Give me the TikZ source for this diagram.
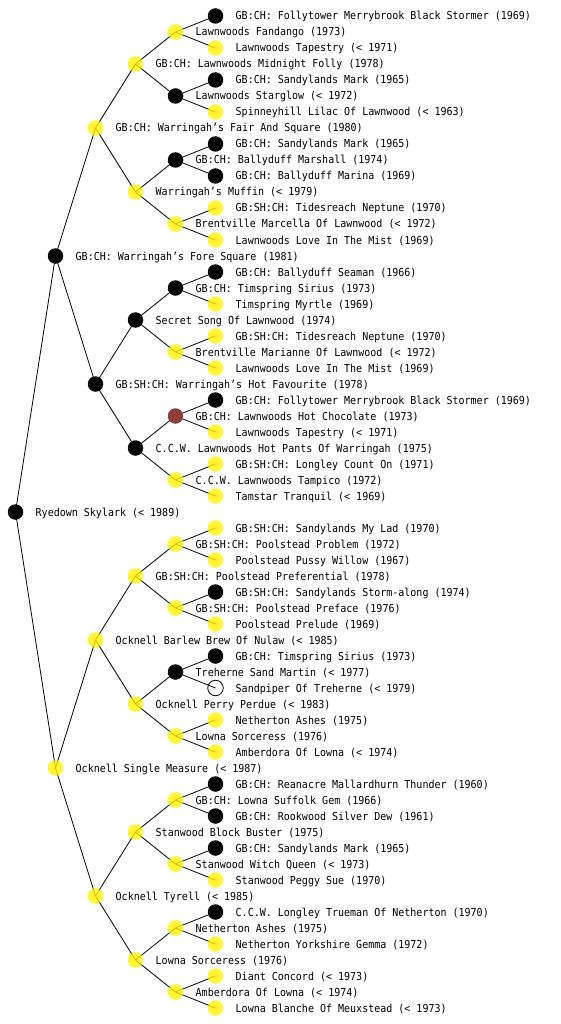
\documentclass[tikz,border=0pt]{standalone}
\usepackage{fontspec}
\newfontfamily\monof[FakeStretch=0.91]{DejaVu Sans Mono}
\usetikzlibrary{backgrounds}
\definecolor{dogbrown}{HTML}{8E3E3A}
\tikzset{
  dog/.style={circle, inner sep=0pt, minimum size=15.5pt},
  yel/.style={dog, fill=yellow, fill opacity=0.8},
  blk/.style={dog, fill=black},
  brw/.style={dog, fill=dogbrown},
  wht/.style={dog, draw=black, line width=0.8pt},
  lbl/.style={anchor=base west, inner sep=0pt, text opacity=1, fill opacity=1,
    font=\monof\fontsize{11}{13}\selectfont},
  edgeline/.style={line width=0.8pt, black}
}
\newcommand\pnode[4]{%
  \node[#3] (n#1) at (#2, 16*#1) {};
  \node[lbl] (t#1) at (#2+20, 16*#1+4) {#4};}
\begin{document}
\begin{tikzpicture}[x=1pt, y=-1pt]
\useasboundingbox (0,0) rectangle (560,1024);
\pnode{1}{215.5}{blk}{GB:CH: Follytower Merrybrook Black Stormer (1969)}
\pnode{2}{175.5}{yel}{Lawnwoods Fandango (1973)}
\pnode{3}{215.5}{yel}{Lawnwoods Tapestry (< 1971)}
\pnode{4}{135.5}{yel}{GB:CH: Lawnwoods Midnight Folly (1978)}
\pnode{5}{215.5}{blk}{GB:CH: Sandylands Mark (1965)}
\pnode{6}{175.5}{blk}{Lawnwoods Starglow (< 1972)}
\pnode{7}{215.5}{yel}{Spinneyhill Lilac Of Lawnwood (< 1963)}
\pnode{8}{95.5}{yel}{GB:CH: Warringah’s Fair And Square (1980)}
\pnode{9}{215.5}{blk}{GB:CH: Sandylands Mark (1965)}
\pnode{10}{175.5}{blk}{GB:CH: Ballyduff Marshall (1974)}
\pnode{11}{215.5}{blk}{GB:CH: Ballyduff Marina (1969)}
\pnode{12}{135.5}{yel}{Warringah’s Muffin (< 1979)}
\pnode{13}{215.5}{yel}{GB:SH:CH: Tidesreach Neptune (1970)}
\pnode{14}{175.5}{yel}{Brentville Marcella Of Lawnwood (< 1972)}
\pnode{15}{215.5}{yel}{Lawnwoods Love In The Mist (1969)}
\pnode{16}{55.5}{blk}{GB:CH: Warringah’s Fore Square (1981)}
\pnode{17}{215.5}{blk}{GB:CH: Ballyduff Seaman (1966)}
\pnode{18}{175.5}{blk}{GB:CH: Timspring Sirius (1973)}
\pnode{19}{215.5}{yel}{Timspring Myrtle (1969)}
\pnode{20}{135.5}{blk}{Secret Song Of Lawnwood (1974)}
\pnode{21}{215.5}{yel}{GB:SH:CH: Tidesreach Neptune (1970)}
\pnode{22}{175.5}{yel}{Brentville Marianne Of Lawnwood (< 1972)}
\pnode{23}{215.5}{yel}{Lawnwoods Love In The Mist (1969)}
\pnode{24}{95.5}{blk}{GB:SH:CH: Warringah’s Hot Favourite (1978)}
\pnode{25}{215.5}{blk}{GB:CH: Follytower Merrybrook Black Stormer (1969)}
\pnode{26}{175.5}{brw}{GB:CH: Lawnwoods Hot Chocolate (1973)}
\pnode{27}{215.5}{yel}{Lawnwoods Tapestry (< 1971)}
\pnode{28}{135.5}{blk}{C.C.W. Lawnwoods Hot Pants Of Warringah (1975)}
\pnode{29}{215.5}{yel}{GB:SH:CH: Longley Count On (1971)}
\pnode{30}{175.5}{yel}{C.C.W. Lawnwoods Tampico (1972)}
\pnode{31}{215.5}{yel}{Tamstar Tranquil (< 1969)}
\pnode{32}{15.5}{blk}{Ryedown Skylark (< 1989)}
\pnode{33}{215.5}{yel}{GB:SH:CH: Sandylands My Lad (1970)}
\pnode{34}{175.5}{yel}{GB:SH:CH: Poolstead Problem (1972)}
\pnode{35}{215.5}{yel}{Poolstead Pussy Willow (1967)}
\pnode{36}{135.5}{yel}{GB:SH:CH: Poolstead Preferential (1978)}
\pnode{37}{215.5}{blk}{GB:SH:CH: Sandylands Storm-along (1974)}
\pnode{38}{175.5}{yel}{GB:SH:CH: Poolstead Preface (1976)}
\pnode{39}{215.5}{yel}{Poolstead Prelude (1969)}
\pnode{40}{95.5}{yel}{Ocknell Barlew Brew Of Nulaw (< 1985)}
\pnode{41}{215.5}{blk}{GB:CH: Timspring Sirius (1973)}
\pnode{42}{175.5}{blk}{Treherne Sand Martin (< 1977)}
\pnode{43}{215.5}{wht}{Sandpiper Of Treherne (< 1979)}
\pnode{44}{135.5}{yel}{Ocknell Perry Perdue (< 1983)}
\pnode{45}{215.5}{yel}{Netherton Ashes (1975)}
\pnode{46}{175.5}{yel}{Lowna Sorceress (1976)}
\pnode{47}{215.5}{yel}{Amberdora Of Lowna (< 1974)}
\pnode{48}{55.5}{yel}{Ocknell Single Measure (< 1987)}
\pnode{49}{215.5}{blk}{GB:CH: Reanacre Mallardhurn Thunder (1960)}
\pnode{50}{175.5}{yel}{GB:CH: Lowna Suffolk Gem (1966)}
\pnode{51}{215.5}{blk}{GB:CH: Rookwood Silver Dew (1961)}
\pnode{52}{135.5}{yel}{Stanwood Block Buster (1975)}
\pnode{53}{215.5}{blk}{GB:CH: Sandylands Mark (1965)}
\pnode{54}{175.5}{yel}{Stanwood Witch Queen (< 1973)}
\pnode{55}{215.5}{yel}{Stanwood Peggy Sue (1970)}
\pnode{56}{95.5}{yel}{Ocknell Tyrell (< 1985)}
\pnode{57}{215.5}{blk}{C.C.W. Longley Trueman Of Netherton (1970)}
\pnode{58}{175.5}{yel}{Netherton Ashes (1975)}
\pnode{59}{215.5}{yel}{Netherton Yorkshire Gemma (1972)}
\pnode{60}{135.5}{yel}{Lowna Sorceress (1976)}
\pnode{61}{215.5}{yel}{Diant Concord (< 1973)}
\pnode{62}{175.5}{yel}{Amberdora Of Lowna (< 1974)}
\pnode{63}{215.5}{yel}{Lowna Blanche Of Meuxstead (< 1973)}
\begin{pgfonlayer}{background}
\foreach \p/\a/\b in {32/16/48,
  16/8/24, 48/40/56,
  8/4/12, 24/20/28, 40/36/44, 56/52/60,
  4/2/6, 12/10/14, 20/18/22, 28/26/30, 36/34/38, 44/42/46, 52/50/54, 60/58/62,
  2/1/3, 6/5/7, 10/9/11, 14/13/15, 18/17/19, 22/21/23, 26/25/27, 30/29/31,
  34/33/35, 38/37/39, 42/41/43, 46/45/47, 50/49/51, 54/53/55, 58/57/59, 62/61/63}
  {\draw[edgeline] (n\p.center) -- (n\a.center);
   \draw[edgeline] (n\p.center) -- (n\b.center);}
\end{pgfonlayer}
\end{tikzpicture}
\end{document}
